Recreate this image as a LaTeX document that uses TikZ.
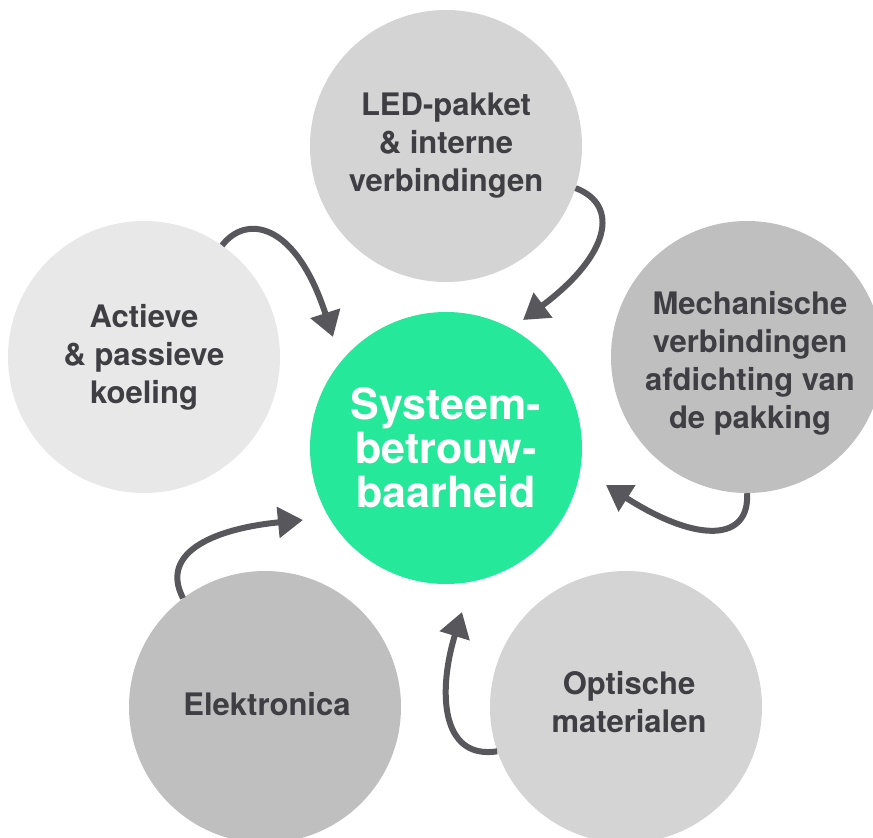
\documentclass[tikz,border=0pt]{standalone}
\usepackage{fontspec}
\setmainfont{TeX Gyre Heros}
\usetikzlibrary{arrows.meta}
\definecolor{mint}{HTML}{26E89A}
\definecolor{greyA}{HTML}{D4D4D4}
\definecolor{greyB}{HTML}{E8E8E8}
\definecolor{greyC}{HTML}{BFBFBF}
\definecolor{inkgrey}{HTML}{3E3E43}
\definecolor{arrowgrey}{HTML}{58575C}
\tikzset{
  label text/.style={text=inkgrey, align=center,
    font=\fontsize{31}{38}\selectfont\bfseries},
  topic/.style={circle, minimum size=272pt, inner sep=0pt, label text},
  hub/.style={circle, minimum size=272pt, inner sep=0pt, align=center,
    fill=mint, text=white, font=\fontsize{43}{44}\selectfont\bfseries},
  flow/.style={draw=arrowgrey, line width=6pt,
    -{Triangle[length=25pt, width=30pt]}},
}
\begin{document}
\begin{tikzpicture}[x=1pt, y=-1pt]
  \clip (0,0) rectangle (873,838);
  \fill[white] (0,0) rectangle (873,838);

  % outer topics
  \node[topic, fill=greyA] (led)  at (446,146) {LED-pakket\\\& interne\\verbindingen};
  \node[topic, fill=greyB] (cool) at (144,357) {Actieve\\\& passieve\\koeling};
  \node[topic, fill=greyC] (mech) at (747,357) {};
  \node[label text] (mechtxt) at (750,363)
    {Mechanische\\verbindingen\\afdichting van\\de pakking};
  \node[topic, fill=greyC] (elec) at (265,707) {};
  \node[label text] (electxt) at (267,704) {Elektronica};
  \node[topic, fill=greyA] (opt)  at (626,707) {};
  \node[label text] (opttxt) at (629,702) {Optische\\materialen};

  % central topic
  \node[hub] (sys) at (446,448) {Systeem-\\betrouw-\\baarheid};

  % arrow tips near the hub
  \coordinate (inLed)  at (523,320);
  \coordinate (inCool) at (333,337);
  \coordinate (inMech) at (606,485);
  \coordinate (inElec) at (303,520);
  \coordinate (inOpt)  at (462,612);

  % connectors
  \draw[flow] (led.-18) .. controls (620,205) and (610,255) .. (inLed);
  \draw[flow] (cool.55) .. controls (245,215) and (295,220) .. (inCool);
  \draw[flow] (mech.-90) .. controls (750,540) and (700,545) .. (inMech);
  \draw[flow] (elec.127) .. controls (158,550) and (220,528) .. (inElec);
  \draw[flow] (opt.199) .. controls (440,760) and (438,690) .. (inOpt);
\end{tikzpicture}
\end{document}
